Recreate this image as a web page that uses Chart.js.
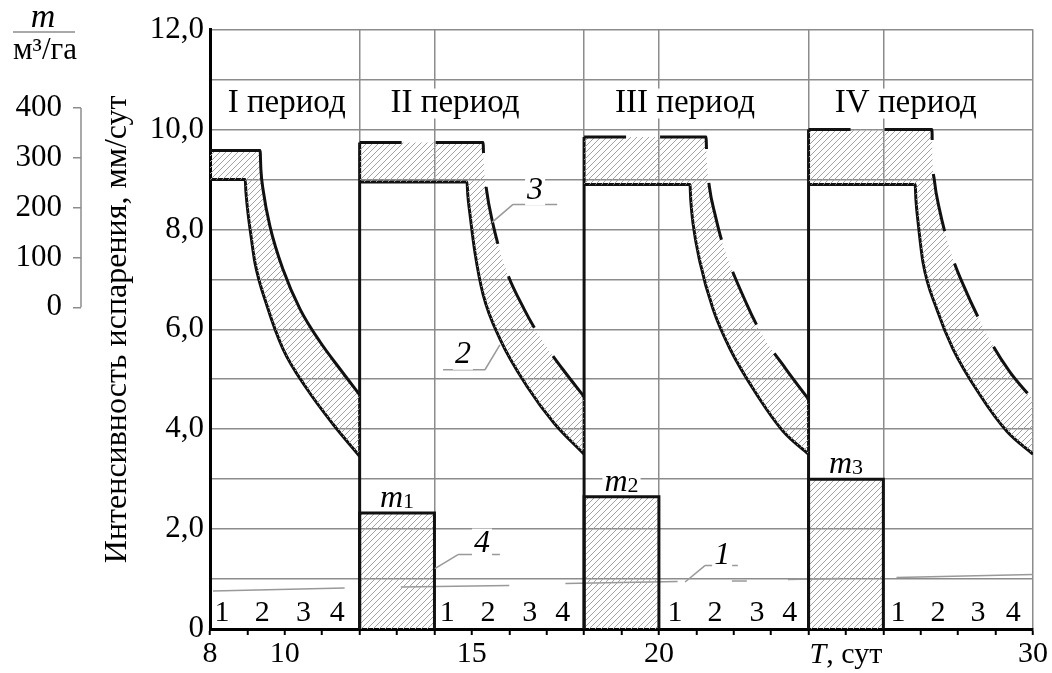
<!DOCTYPE html>
<html>
<head>
<meta charset="utf-8">
<script src="https://cdn.jsdelivr.net/npm/chart.js@4.4.1/dist/chart.umd.min.js"></script>
<style>
  html, body { margin: 0; padding: 0; background: #fff; }
  #wrap { width: 1052px; height: 673px; position: relative; }
</style>
</head>
<body>
<div id="wrap"><canvas id="evapChart"></canvas></div>
<script>
const canvas = document.getElementById("evapChart");

// curve 3 (upper) and curve 2 (lower), one pair per period
const upperX1 = [8, 9.34, 9.36, 9.42, 9.6, 9.95, 10.41, 10.94, 11.47, 12];
const upperY1 = [9.58, 9.58, 9.2, 8.79, 8.07, 7.2, 6.4, 5.75, 5.21, 4.69];
const lowerX1 = [8, 8.94, 8.96, 9.02, 9.1, 9.2, 9.52, 9.95, 10.59, 11.29, 12];
const lowerY1 = [9.0, 9.0, 8.75, 8.3, 7.85, 7.34, 6.48, 5.61, 4.81, 4.1, 3.46];

const upperX2 = [12, 15.3, 15.32, 15.38, 15.56, 15.91, 16.4, 16.9, 17.43, 18];
const upperY2 = [9.74, 9.74, 9.3, 8.85, 8.12, 7.2, 6.4, 5.75, 5.2, 4.65];
const lowerX2 = [12, 14.87, 14.89, 14.95, 15.08, 15.3, 15.75, 16.5, 17.2, 18];
const lowerY2 = [8.95, 8.95, 8.7, 8.3, 7.55, 6.7, 5.81, 4.83, 4.12, 3.5];

const upperX3 = [18, 21.26, 21.28, 21.35, 21.5, 21.71, 22.35, 22.75, 23.4, 24];
const upperY3 = [9.85, 9.85, 9.4, 8.85, 8.3, 7.7, 6.5, 5.9, 5.2, 4.6];
const lowerX3 = [18, 20.83, 20.85, 20.91, 21.1, 21.45, 21.9, 22.62, 23.32, 24];
const lowerY3 = [8.9, 8.9, 8.6, 8.13, 7.34, 6.4, 5.61, 4.69, 3.96, 3.5];

const upperX4 = [24, 27.3, 27.31, 27.36, 27.5, 27.83, 28.13, 28.9, 29.38, 30];
const upperY4 = [10.0, 10.0, 9.5, 9.0, 8.4, 7.48, 6.9, 5.71, 5.15, 4.59];
const lowerX4 = [24, 26.85, 26.87, 26.93, 27.06, 27.43, 27.86, 28.58, 29.3, 30];
const lowerY4 = [8.9, 8.9, 8.6, 8.13, 7.34, 6.4, 5.61, 4.69, 3.96, 3.5];

// m1..m3 blocks
const barStart = [12, 18, 24];
const barEnd = [14, 20, 26];
const barHeight = [2.32, 2.65, 3.0];
const barNames = ["1", "2", "3"];

// line 1 (thin grey), null = break
const line1X = [8.08, 11.6, 11.8, 13.1, 16.0, 16.5, 17.5, 20.5, 21.0, 21.95, 22.35, 23.0, 23.45, 24.85, 25.5, 26.35, 30.0];
const line1Y = [0.76, 0.82, null, 0.84, 0.87, null, 0.91, 0.95, null, 0.96, 0.96, null, 0.99, 1.01, null, 1.03, 1.09];

const periodNames = ["I период", "II период", "III период", "IV период"];
const periodX = [10.05, 14.55, 20.7, 26.6];
const stageNames = ["1", "2", "3", "4"];
const stageX = [8.32, 9.4, 10.5, 11.4, 14.34, 15.43, 16.55, 17.43, 20.43, 21.5, 22.62, 23.5, 26.39, 27.46, 28.53, 29.47];

const xLabels = [8, 10, 15, 20, 30];
const vLines = [12, 14, 18, 20, 24, 26, 30];
const mTicks = [0, 100, 200, 300, 400];

const SERIF = '"Liberation Serif", "DejaVu Serif", serif';
const GRID = "#8c8c8c";

const hatch = (() => {
  const c = document.createElement("canvas");
  c.width = 6; c.height = 6;
  const g = c.getContext("2d");
  g.strokeStyle = "#a2a2a2";
  g.lineWidth = 1;
  g.beginPath();
  g.moveTo(0, 6); g.lineTo(6, 0);
  g.moveTo(-1, 1); g.lineTo(1, -1);
  g.moveTo(5, 7); g.lineTo(7, 5);
  g.stroke();
  return canvas.getContext("2d").createPattern(c, "repeat");
})();

const xy = (xs, ys) => xs.map((x, i) => ({ x: x, y: ys[i] }));

const periods = [
  [upperX1, upperY1, lowerX1, lowerY1],
  [upperX2, upperY2, lowerX2, lowerY2],
  [upperX3, upperY3, lowerX3, lowerY3],
  [upperX4, upperY4, lowerX4, lowerY4],
];

const datasets = [];
periods.forEach((p, i) => {
  datasets.push({
    label: "3",
    data: xy(p[0], p[1]),
    borderColor: "#111",
    borderWidth: 3,
    borderDash: i === 0 ? [] : [58, 34],
    borderDashOffset: 16,
    fill: "+1",
    backgroundColor: hatch,
    pointRadius: 0,
    cubicInterpolationMode: "monotone",
  });
  datasets.push({
    label: "2",
    data: xy(p[2], p[3]),
    borderColor: "#111",
    borderWidth: 3,
    fill: false,
    pointRadius: 0,
    cubicInterpolationMode: "monotone",
  });
});

// period boundaries from the axis to curve 3
[upperY2, upperY3, upperY4].forEach((ys, i) => {
  datasets.push({
    label: "edge",
    data: [{ x: barStart[i], y: 0 }, { x: barStart[i], y: ys[0] }],
    borderColor: "#111",
    borderWidth: 3,
    pointRadius: 0,
    fill: false,
  });
});

barStart.forEach((s, i) => {
  datasets.push({
    label: "m" + barNames[i],
    data: [{ x: s, y: 0 }, { x: s, y: barHeight[i] }, { x: barEnd[i], y: barHeight[i] }, { x: barEnd[i], y: 0 }],
    borderColor: "#111",
    borderWidth: 3,
    borderJoinStyle: "miter",
    backgroundColor: hatch,
    fill: "origin",
    pointRadius: 0,
  });
});

datasets.push({
  label: "1",
  data: xy(line1X, line1Y),
  borderColor: "#999",
  borderWidth: 1.5,
  pointRadius: 0,
  fill: false,
  spanGaps: false,
});

// callouts: text position, underline, leader end
const callouts = [
  { t: "3", tx: 16.69, ty: 8.78, u0: 16.1, u1: 17.28, uy: 8.5, lx: 15.54, ly: 8.14 },
  { t: "2", tx: 14.76, ty: 5.49, u0: 14.23, u1: 15.35, uy: 5.19, lx: 15.75, ly: 5.69, right: true },
  { t: "4", tx: 15.27, ty: 1.71, u0: 14.63, u1: 15.75, uy: 1.49, lx: 14.01, ly: 1.21 },
  { t: "1", tx: 21.69, ty: 1.47, u0: 21.23, u1: 22.11, uy: 1.27, lx: 20.7, ly: 0.94 },
];

const decor = {
  id: "decor",
  afterDatasetsDraw(chart) {
    const { ctx, scales: { x, y, y2 } } = chart;
    ctx.save();

    // secondary m scale: bracket + header
    ctx.strokeStyle = GRID;
    ctx.lineWidth = 1.5;
    ctx.beginPath();
    ctx.moveTo(y2.right, y2.getPixelForValue(mTicks[0]));
    ctx.lineTo(y2.right, y2.getPixelForValue(mTicks[mTicks.length - 1]));
    ctx.stroke();
    ctx.fillStyle = "#000";
    ctx.textAlign = "center";
    ctx.textBaseline = "alphabetic";
    ctx.font = "italic 34px " + SERIF;
    ctx.fillText("m", 43, 27);
    ctx.beginPath();
    ctx.moveTo(13, 32);
    ctx.lineTo(75, 32);
    ctx.stroke();
    ctx.font = "31px " + SERIF;
    ctx.fillText("м³/га", 45, 59);

    const boxText = (s, px, py, font) => {
      ctx.font = font;
      const w = ctx.measureText(s).width;
      ctx.fillStyle = "#fff";
      ctx.fillRect(px - w / 2 - 2, py - 15, w + 4, 30);
      ctx.fillStyle = "#000";
      ctx.textAlign = "center";
      ctx.textBaseline = "middle";
      ctx.fillText(s, px, py);
    };

    // period titles
    periodNames.forEach((n, i) => {
      boxText(n, x.getPixelForValue(periodX[i]), y.getPixelForValue(10.52), "33px " + SERIF);
    });

    // stage numbers
    ctx.font = "30px " + SERIF;
    ctx.textAlign = "center";
    ctx.textBaseline = "middle";
    ctx.fillStyle = "#000";
    stageX.forEach((v, i) => {
      ctx.fillText(stageNames[i % 4], x.getPixelForValue(v), y.getPixelForValue(0.32));
    });

    // callouts
    callouts.forEach((c) => {
      ctx.strokeStyle = "#999";
      ctx.lineWidth = 1.5;
      const ux0 = x.getPixelForValue(c.u0), ux1 = x.getPixelForValue(c.u1), uy = y.getPixelForValue(c.uy);
      const start = c.right ? ux1 : ux0;
      ctx.beginPath();
      ctx.moveTo(ux0, uy);
      ctx.lineTo(ux1, uy);
      ctx.moveTo(start, uy);
      ctx.lineTo(x.getPixelForValue(c.lx), y.getPixelForValue(c.ly));
      ctx.stroke();
      boxText(c.t, x.getPixelForValue(c.tx), y.getPixelForValue(c.ty), "italic 32px " + SERIF);
    });

    // m labels above the blocks
    barStart.forEach((s, i) => {
      const cx = x.getPixelForValue((s + barEnd[i]) / 2);
      const by = y.getPixelForValue(barHeight[i]) - 6;
      ctx.font = "italic 32px " + SERIF;
      const wm = ctx.measureText("m").width;
      ctx.font = "22px " + SERIF;
      const ws = ctx.measureText(barNames[i]).width;
      const left = cx - (wm + ws) / 2;
      ctx.fillStyle = "#fff";
      ctx.fillRect(left - 2, by - 16, wm + ws + 4, 18);
      ctx.fillStyle = "#000";
      ctx.textAlign = "left";
      ctx.textBaseline = "alphabetic";
      ctx.font = "italic 32px " + SERIF;
      ctx.fillText("m", left, by);
      ctx.font = "22px " + SERIF;
      ctx.fillText(barNames[i], left + wm, by + 1);
    });

    // T, сут under tick 25
    ctx.font = "italic 30px " + SERIF;
    const wT = ctx.measureText("T").width;
    ctx.font = "30px " + SERIF;
    const wR = ctx.measureText(", сут").width;
    const tx = x.getPixelForValue(25) - (wT + wR) / 2;
    ctx.textAlign = "left";
    ctx.textBaseline = "middle";
    ctx.font = "italic 30px " + SERIF;
    ctx.fillText("T", tx, 655);
    ctx.font = "30px " + SERIF;
    ctx.fillText(", сут", tx + wT, 655);

    ctx.restore();
  },
};

new Chart(canvas, {
  type: "line",
  data: { datasets: datasets },
  plugins: [decor],
  options: {
    responsive: true,
    maintainAspectRatio: false,
    animation: false,
    layout: { padding: { top: 25, right: 19, left: 0, bottom: 0 } },
    plugins: {
      legend: { display: false },
      tooltip: { enabled: false },
    },
    scales: {
      x: {
        type: "linear",
        min: 8,
        max: 30,
        border: { color: "#000", width: 3 },
        grid: {
          color: (c) => (vLines.includes(c.tick.value) ? GRID : "rgba(0,0,0,0)"),
          lineWidth: 1.5,
          tickColor: "#000",
          tickWidth: 2,
          tickLength: 6,
        },
        ticks: {
          stepSize: 1,
          autoSkip: false,
          maxRotation: 0,
          color: "#000",
          padding: 1,
          font: { family: SERIF, size: 30 },
          callback: (v) => (xLabels.includes(v) ? String(v) : ""),
        },
        afterFit: (s) => { s.height = 44; },
      },
      y: {
        min: 0,
        max: 12,
        weight: 0,
        border: { color: "#000", width: 3 },
        grid: { color: GRID, lineWidth: 1.5, drawTicks: false },
        ticks: {
          stepSize: 1,
          color: "#000",
          padding: 6,
          font: { family: SERIF, size: 31 },
          callback: (v) => (v % 2 ? "" : v === 0 ? "0" : v.toFixed(1).replace(".", ",")),
        },
        title: {
          display: true,
          text: "Интенсивность испарения, мм/сут",
          color: "#000",
          font: { family: SERIF, size: 32 },
          padding: { top: 17, bottom: 0 },
        },
        afterFit: (s) => { s.width = 129; },
      },
      y2: {
        type: "linear",
        position: "left",
        weight: 1,
        min: -645,
        max: 557,
        border: { display: false },
        grid: { drawOnChartArea: false, color: GRID, lineWidth: 1.5, tickLength: 8 },
        ticks: { color: "#000", padding: 11, font: { family: SERIF, size: 31 } },
        afterBuildTicks: (s) => { s.ticks = mTicks.map((v) => ({ value: v })); },
        afterFit: (s) => { s.width = 81; },
      },
    },
  },
});
</script>
</body>
</html>
